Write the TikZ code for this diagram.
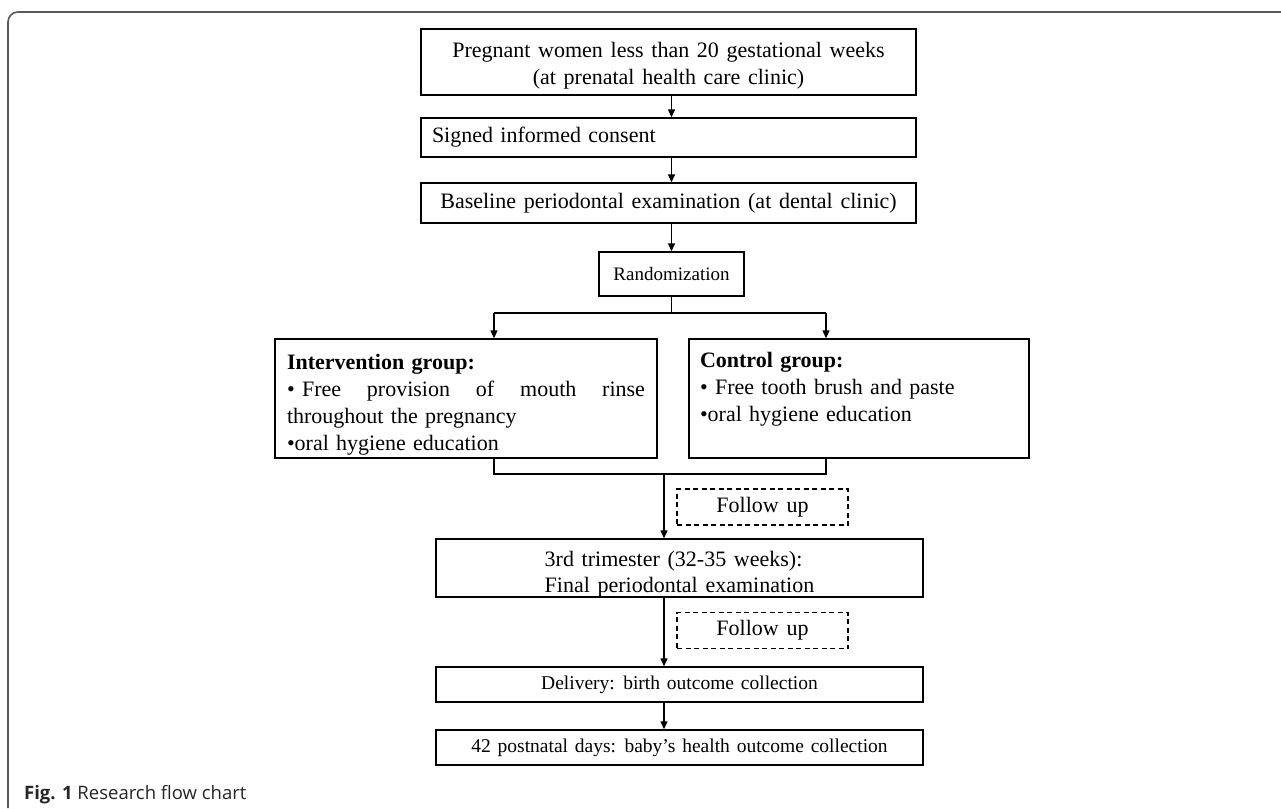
\documentclass[tikz,border=0pt]{standalone}
\usepackage{fontspec}
\setmainfont{Liberation Serif}[WordSpace=1.4]
\newfontfamily\capfont{Open Sans}
\usetikzlibrary{arrows.meta,calc}
\begin{document}
\begin{tikzpicture}[x=1pt,y=-1pt,
  box/.style={draw=black, line width=1.4pt, inner sep=0pt, rectangle, font=\fontsize{22}{27}\selectfont},
  plain/.style={inner sep=0pt, font=\fontsize{22}{26}\selectfont},
  arr/.style={line width=1.3pt, -{Triangle[length=8pt,width=7pt]}},
  conn/.style={line width=1.3pt},
  fubox/.style={draw=black, line width=1.3pt, dash pattern=on 5pt off 3.5pt, inner sep=0pt, minimum width=171pt, minimum height=36pt, font=\fontsize{22}{27}\selectfont},
  smallbox/.style={box, font=\fontsize{19.5}{23}\selectfont}
]
\fill[white] (0,0) rectangle (1281,808);
\useasboundingbox (0,0) rectangle (1281,808);

% outer frame
\draw[line width=1.6pt, draw=black!65, rounded corners=10pt] (8,808) -- (8,12) -- (1281,12);

% main column
\node[box, minimum width=495pt, minimum height=66pt, align=center] (b1) at (668.5,62)
  {\rule{0pt}{23pt}Pregnant women less than 20 gestational weeks\\(at prenatal health care clinic)};
\node[box, minimum width=495pt, minimum height=39pt, inner xsep=11pt, text width=473pt, align=left] (b2) at (668.5,137.5)
  {Signed informed consent};
\node[box, minimum width=495pt, minimum height=40pt] (b3) at (668.5,203)
  {Baseline periodontal examination (at dental clinic)};
\node[box, minimum width=145pt, minimum height=44pt, font=\fontsize{19}{23}\selectfont] (rnd) at (671.5,274)
  {Randomization};

% groups
\node[box, minimum width=382pt, minimum height=119pt, inner xsep=12pt, text width=358pt, align=left] (int) at (466,398.5)
  {\rule{0pt}{27pt}\textbf{Intervention group:}\\\leavevmode\hbox to 358pt{•\ Free\hfill provision\hfill of\hfill mouth\hfill rinse}\\throughout the pregnancy\\•oral hygiene education};
\node[box, minimum width=340pt, minimum height=119pt, inner xsep=11pt, text width=318pt, align=left] (ctl) at (859,398.5)
  {\rule{0pt}{27pt}\textbf{Control group:}\\• Free tooth brush and paste\\•oral hygiene education\\\strut};

% lower part
\node[fubox] (fu1) at (762.5,507) {Follow up};
\node[box, minimum width=487pt, minimum height=58pt] (t3) at (679.5,568) {};
\node[plain, align=left] (t3t) at (679.5,574) {3rd trimester (32-35 weeks):\\Final periodontal examination};
\node[fubox] (fu2) at (762.5,630.5) {Follow up};
\node[smallbox, minimum width=487pt, minimum height=35pt] (del) at (679.5,684.5) {Delivery: birth outcome collection};
\node[smallbox, minimum width=487pt, minimum height=35pt] (post) at (679.5,747.5) {42 postnatal days: baby’s health outcome collection};

% junction coordinates
\coordinate (bl) at (494,313);
\coordinate (br) at (826,313);
\coordinate (ml) at (494,474);
\coordinate (mr) at (826,474);
\coordinate (mc) at (664,474);

% connectors
\draw[arr] (rnd.north |- b1.south) -- (rnd.north |- b2.north);
\draw[arr] (rnd.north |- b2.south) -- (rnd.north |- b3.north);
\draw[arr] (rnd.north |- b3.south) -- (rnd.north);
\draw[conn] (rnd.south) -- (rnd.south |- bl);
\draw[conn] (bl) -- (br);
\draw[arr] (bl) -- (bl |- int.north);
\draw[arr] (br) -- (br |- ctl.north);
\draw[conn] (ml |- int.south) -- (ml) -- (mr) -- (mr |- ctl.south);
\draw[arr] (mc) -- (mc |- t3.north);
\draw[arr] (mc |- t3.south) -- (mc |- del.north);
\draw[arr] (mc |- del.south) -- (mc |- post.north);

% caption
\node[anchor=base west, inner sep=0pt, font=\capfont\fontsize{18.5}{22}\selectfont, text=black!85] (cap) at (24,799)
  {\textbf{Fig. 1} Research flow chart};
\end{tikzpicture}
\end{document}
